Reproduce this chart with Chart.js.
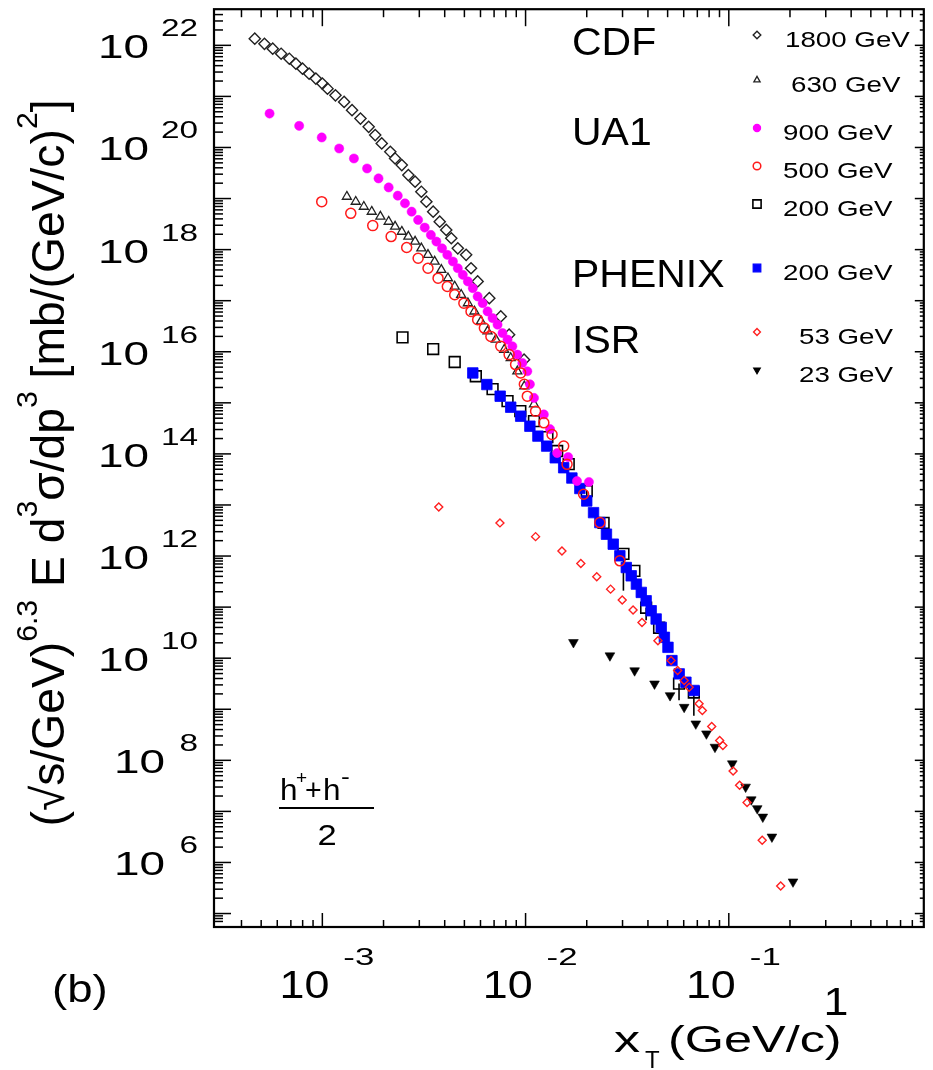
<!DOCTYPE html>
<html>
<head>
<meta charset="utf-8">
<script src="https://cdn.jsdelivr.net/npm/chart.js@4.4.0/dist/chart.umd.min.js"></script>
<style>
  html, body { margin: 0; padding: 0; background: #fff; }
  #wrap { width: 933px; height: 1070px; }
</style>
</head>
<body>
<div id="wrap"><canvas id="chart"></canvas></div>
<script>
// axis ranges (log scales)
const xMin = 2.93e-4, xMax = 0.911;
const yMin = 5.45e4, yMax = 5.1e22;
const xLabelExps = [-3, -2, -1];
const yLabelExps = [6, 8, 10, 12, 14, 16, 18, 20, 22];

// CDF 1800 GeV
const cdf1800X = [4.65e-4, 5.19e-4, 5.70e-4, 6.27e-4, 6.88e-4, 7.41e-4, 7.99e-4, 8.61e-4, 9.29e-4, 1.00e-3,
  1.06e-3, 1.16e-3, 1.28e-3, 1.40e-3, 1.54e-3, 1.69e-3, 1.82e-3, 1.96e-3, 2.16e-3, 2.28e-3, 2.46e-3, 2.65e-3,
  2.86e-3, 3.07e-3, 3.25e-3, 3.51e-3, 3.78e-3, 4.07e-3, 4.31e-3, 4.64e-3, 5.10e-3, 5.39e-3, 5.81e-3, 6.63e-3,
  7.55e-3, 8.30e-3, 9.83e-3];
const cdf1800Y = [1.35e22, 1.07e22, 8.6e21, 6.85e21, 5.47e21, 4.37e21, 3.49e21, 2.79e21, 2.23e21, 1.78e21,
  1.42e21, 1.05e21, 7.8e20, 5.37e20, 3.68e20, 2.54e20, 1.75e20, 1.20e20, 8.24e19, 6.09e19, 4.53e19, 2.88e19,
  2.14e19, 1.36e19, 8.69e18, 5.54e18, 3.53e18, 2.43e18, 1.67e18, 1.06e18, 7.9e17, 4.32e17, 2.38e17, 1.12e17,
  4.92e16, 2.16e16, 7.0e15];

// CDF 630 GeV
const cdf630X = [1.32e-3, 1.46e-3, 1.60e-3, 1.75e-3, 1.93e-3, 2.12e-3, 2.28e-3, 2.46e-3, 2.65e-3, 2.86e-3,
  3.07e-3, 3.31e-3, 3.57e-3, 3.85e-3, 4.15e-3, 4.48e-3, 4.82e-3, 5.20e-3, 5.60e-3, 6.03e-3, 6.50e-3, 7.14e-3,
  7.85e-3, 8.45e-3, 9.11e-3, 9.86e-3, 1.10e-2];
const cdf630Y = [1.09e19, 8.69e18, 6.94e18, 5.54e18, 4.43e18, 3.53e18, 2.82e18, 2.25e18, 1.80e18, 1.44e18,
  1.06e18, 7.9e17, 5.85e17, 4.03e17, 2.76e17, 1.90e17, 1.31e17, 8.95e16, 6.17e16, 3.94e16, 2.51e16, 1.73e16,
  1.10e16, 7.55e15, 4.15e15, 2.11e15, 9.4e14];

// UA1 900 GeV
const ua1900X = [5.50e-4, 7.69e-4, 9.93e-4, 1.21e-3, 1.43e-3, 1.66e-3, 1.89e-3, 2.12e-3, 2.35e-3, 2.55e-3,
  2.75e-3, 2.96e-3, 3.19e-3, 3.42e-3, 3.64e-3, 3.88e-3, 4.12e-3, 4.39e-3, 4.64e-3, 4.91e-3, 5.20e-3, 5.50e-3,
  5.81e-3, 6.15e-3, 6.50e-3, 6.88e-3, 7.28e-3, 7.70e-3, 8.15e-3, 8.61e-3, 9.11e-3, 9.64e-3, 1.02e-2, 1.05e-2,
  1.10e-2, 1.23e-2, 1.32e-2, 1.43e-2, 1.62e-2, 1.79e-2, 2.05e-2];
const ua1900Y = [4.61e20, 2.65e20, 1.57e20, 9.55e19, 6.09e19, 3.88e19, 2.48e19, 1.65e19, 1.14e19, 8.05e18,
  5.54e18, 3.81e18, 2.70e18, 1.94e18, 1.44e18, 1.06e18, 7.9e17, 5.85e17, 4.32e17, 3.21e17, 2.38e17, 1.76e17,
  1.21e17, 8.95e16, 6.17e16, 4.56e16, 3.39e16, 2.32e16, 1.73e16, 1.28e16, 8.79e15, 6.03e15, 4.15e15, 2.31e15,
  1.25e15, 5.92e14, 3.05e14, 1.04e14, 8.67e13, 2.94e13, 2.82e13];

// UA1 500 GeV
const ua1500X = [9.93e-4, 1.38e-3, 1.77e-3, 2.18e-3, 2.60e-3, 2.96e-3, 3.31e-3, 3.71e-3, 4.12e-3, 4.48e-3,
  4.97e-3, 5.39e-3, 5.81e-3, 6.27e-3, 6.75e-3, 7.55e-3, 8.30e-3, 8.93e-3, 9.46e-3, 9.86e-3, 1.02e-2, 1.12e-2,
  1.23e-2, 1.35e-2, 1.54e-2, 1.60e-2, 1.93e-2, 2.32e-2, 2.91e-2];
const ua1500Y = [8.69e18, 5.13e18, 2.95e18, 1.80e18, 1.10e18, 6.78e17, 4.32e17, 2.76e17, 1.90e17, 1.31e17,
  8.95e16, 6.17e16, 4.25e16, 2.91e16, 2.00e16, 1.28e16, 8.79e15, 5.61e15, 3.85e15, 2.31e15, 1.35e15, 6.87e14,
  4.06e14, 2.40e14, 1.42e14, 6.24e13, 1.62e13, 4.52e12, 8.05e11];

// UA1 200 GeV (lower error ends, null = no visible bar)
const ua1200X = [2.48e-3, 3.51e-3, 4.48e-3, 5.69e-3, 6.88e-3, 8.15e-3, 9.42e-3, 1.10e-2, 1.28e-2, 1.43e-2,
  1.63e-2, 2.00e-2, 2.42e-2, 3.03e-2, 3.43e-2, 3.92e-2, 4.54e-2, 5.69e-2, 6.73e-2];
const ua1200Y = [1.91e16, 1.13e16, 6.31e15, 3.31e15, 1.85e15, 1.08e15, 6.87e14, 4.38e14, 2.13e14, 1.14e14,
  6.32e13, 1.88e13, 4.46e12, 1.10e12, 5.14e11, 9.73e10, 3.95e10, 3.18e9, 2.13e9];
const ua1200Lo = [null, null, null, null, null, null, null, null, null, null,
  null, 1.2e13, null, 2.1e11, null, 5.5e10, null, 1.5e9, 7.5e8];

// PHENIX 200 GeV
const phenixX = [5.50e-3, 6.45e-3, 7.50e-3, 8.45e-3, 9.46e-3, 1.05e-2, 1.15e-2, 1.27e-2, 1.40e-2, 1.54e-2,
  1.69e-2, 1.85e-2, 2.00e-2, 2.16e-2, 2.32e-2, 2.50e-2, 2.70e-2, 2.91e-2, 3.13e-2, 3.31e-2, 3.51e-2, 3.71e-2,
  3.92e-2, 4.15e-2, 4.39e-2, 4.65e-2, 4.82e-2, 5.02e-2, 5.25e-2, 5.70e-2, 6.15e-2, 6.75e-2];
const phenixY = [3.85e15, 2.28e15, 1.35e15, 8.22e14, 5.48e14, 3.49e14, 2.23e14, 1.42e14, 8.40e13, 5.36e13,
  3.37e13, 2.10e13, 1.20e13, 7.08e12, 4.52e12, 2.68e12, 1.71e12, 1.01e12, 5.96e11, 4.10e11, 2.82e11, 1.94e11,
  1.33e11, 8.49e10, 5.85e10, 4.01e10, 2.56e10, 1.63e10, 8.97e9, 4.93e9, 3.38e9, 2.33e9];

// ISR 53 GeV
const isr53X = [3.74e-3, 7.48e-3, 1.12e-2, 1.51e-2, 1.87e-2, 2.24e-2, 2.62e-2, 2.99e-2, 3.38e-2, 3.74e-2,
  4.48e-2, 5.20e-2, 5.60e-2, 6.03e-2, 6.38e-2, 7.14e-2, 7.41e-2, 8.24e-2, 9.02e-2, 9.35e-2, 1.05e-1, 1.13e-1,
  1.23e-1, 1.46e-1, 1.80e-1];
const isr53Y = [9.14e12, 4.46e12, 2.40e12, 1.26e12, 7.13e11, 3.93e11, 2.25e11, 1.38e11, 8.77e10, 5.02e10,
  2.20e10, 8.97e9, 5.71e9, 3.65e9, 2.70e9, 1.28e9, 9.46e8, 4.60e8, 2.45e8, 1.96e8, 6.17e7, 3.24e7,
  1.49e7, 2.73e6, 3.45e5];

// ISR 23 GeV
const isr23X = [1.72e-2, 2.60e-2, 3.44e-2, 4.31e-2, 5.14e-2, 6.03e-2, 6.88e-2, 7.76e-2, 8.55e-2, 1.04e-1,
  1.21e-1, 1.29e-1, 1.38e-1, 1.47e-1, 1.63e-1, 2.07e-1];
const isr23Y = [2.04e10, 1.12e10, 5.71e9, 3.15e9, 1.86e9, 1.10e9, 5.20e8, 3.32e8, 1.82e8, 8.61e7,
  3.01e7, 1.70e7, 1.14e7, 7.80e6, 3.17e6, 4.19e5];

const FONT = '"Liberation Sans", Arial, Helvetica, sans-serif';

function pts(xs, ys) {
  return xs.map((x, i) => ({ x: x, y: ys[i] }));
}

const series = [
  { label: '1800 GeV', data: pts(cdf1800X, cdf1800Y), pointStyle: 'rectRot', radius: 5.6, fill: null, stroke: '#222', bw: 1.4, order: 8, lx: 785, ly: 35, lr: 3.8 },
  { label: '630 GeV', data: pts(cdf630X, cdf630Y), pointStyle: 'triangle', radius: 5.2, fill: null, stroke: '#222', bw: 1.3, order: 7, lx: 791, ly: 80, lr: 3.6 },
  { label: '900 GeV', data: pts(ua1900X, ua1900Y), pointStyle: 'circle', radius: 4.6, fill: '#ff00ff', stroke: '#ff00ff', bw: 0.5, order: 4, lx: 783, ly: 128, lr: 3.6 },
  { label: '500 GeV', data: pts(ua1500X, ua1500Y), pointStyle: 'circle', radius: 5, fill: null, stroke: '#ff1a1a', bw: 1.5, order: 3, lx: 783, ly: 166, lr: 3.8 },
  { label: '200 GeV', data: pts(ua1200X, ua1200Y), pointStyle: 'rect', radius: 7.6, fill: null, stroke: '#000', bw: 1.6, order: 6, lx: 783, ly: 204, lr: 5.8 },
  { label: '200 GeV', data: pts(phenixX, phenixY), pointStyle: 'rect', radius: 7.4, fill: '#0000ff', stroke: '#0000ff', bw: 0.8, order: 5, lx: 783, ly: 268, lr: 5.4 },
  { label: '53 GeV', data: pts(isr53X, isr53Y), pointStyle: 'rectRot', radius: 4, fill: null, stroke: '#ff2020', bw: 1.4, order: 1, lx: 799, ly: 332, lr: 3.4 },
  { label: '23 GeV', data: pts(isr23X, isr23Y), pointStyle: 'triangle', rotation: 180, radius: 5.6, fill: '#000', stroke: '#000', bw: 0.6, order: 2, lx: 799, ly: 370, lr: 3.8 }
];

function txt(ctx, s, x, y, size, sx, align) {
  ctx.save();
  ctx.font = size + 'px ' + FONT;
  ctx.textBaseline = 'alphabetic';
  ctx.textAlign = 'left';
  const w = ctx.measureText(s).width * sx;
  const x0 = align === 'right' ? x - w : align === 'center' ? x - w / 2 : x;
  ctx.translate(x0, y);
  ctx.scale(sx, 1);
  ctx.fillStyle = '#000';
  ctx.fillText(s, 0, 0);
  ctx.restore();
  return w;
}

function seg(ctx, x1, y1, x2, y2) {
  ctx.beginPath();
  ctx.moveTo(x1, y1);
  ctx.lineTo(x2, y2);
  ctx.stroke();
}

// lower error bars for UA1 200 GeV, drawn under the markers
const errorBarPlugin = {
  id: 'errorBars',
  beforeDatasetsDraw(chart) {
    const ctx = chart.ctx;
    const xs = chart.scales.x, ys = chart.scales.y;
    ctx.save();
    ctx.strokeStyle = '#000';
    ctx.lineWidth = 1.6;
    ua1200X.forEach((v, i) => {
      if (ua1200Lo[i] == null) return;
      const px = xs.getPixelForValue(v);
      seg(ctx, px, ys.getPixelForValue(ua1200Y[i]), px, ys.getPixelForValue(ua1200Lo[i]));
    });
    ctx.restore();
  }
};

const framePlugin = {
  id: 'frame',
  afterDatasetsDraw(chart) {
    const ctx = chart.ctx;
    const a = chart.chartArea;
    const xs = chart.scales.x, ys = chart.scales.y;
    ctx.save();
    ctx.strokeStyle = '#000';

    // ticks on x (bottom and top)
    ctx.lineWidth = 1.5;
    for (let e = -4; e <= 0; e++) {
      for (let m = 1; m <= 9; m++) {
        const px = xs.getPixelForValue(m * Math.pow(10, e));
        if (px < a.left + 3 || px > a.right - 3) continue;
        const major = m === 1;
        seg(ctx, px, a.bottom, px, a.bottom - (major ? 14 : 7));
        seg(ctx, px, a.top, px, a.top + (major ? 17 : 8));
      }
    }
    // ticks on y (left and right)
    for (let e = 4; e <= 23; e++) {
      for (let m = 1; m <= 9; m++) {
        const py = ys.getPixelForValue(m * Math.pow(10, e));
        if (py < a.top + 3 || py > a.bottom - 3) continue;
        const major = m === 1;
        seg(ctx, a.left, py, a.left + (major ? 17 : 9), py);
        seg(ctx, a.right, py, a.right - (major ? 9 : 4), py);
      }
    }
    ctx.lineWidth = 2.2;
    ctx.strokeRect(a.left, a.top, a.right - a.left, a.bottom - a.top);

    // y tick labels
    yLabelExps.forEach(e => {
      const py = ys.getPixelForValue(Math.pow(10, e));
      const exp = String(e);
      const right = exp.length > 1 ? 149 : 165;
      txt(ctx, '10', right, py + 13, 34, 1.35, 'right');
      txt(ctx, exp, 198, py - 9, 23, 1.45, 'right');
    });
    // x tick labels
    xLabelExps.forEach(e => {
      const px = xs.getPixelForValue(Math.pow(10, e));
      txt(ctx, '10', px + 7, 998, 38, 1.18, 'right');
      txt(ctx, String(e), px + 21, 965, 24, 1.45, 'left');
    });
    txt(ctx, '1', xs.getPixelForValue(1) - 96, 1015, 38, 1.18, 'center');

    // x axis title
    txt(ctx, 'x', 614, 1052, 36, 1.45, 'left');
    txt(ctx, 'T', 645, 1068, 24, 1.0, 'left');
    txt(ctx, '(GeV/c)', 668, 1052, 36, 1.4, 'left');

    // y axis title, rotated
    const pieces = [
      ['(\u221As/GeV)', 0], ['6.3', 1], [' E d', 0], ['3', 1], ['\u03C3/dp', 0], ['3', 1],
      [' [mb/(GeV/c)', 0], ['2', 1], [']', 0]
    ];
    const mainSize = 46, supSize = 30;
    let total = 0;
    pieces.forEach(p => {
      ctx.font = (p[1] ? supSize : mainSize) + 'px ' + FONT;
      total += ctx.measureText(p[0]).width;
    });
    const span = 727;
    const k = span / total;
    ctx.save();
    ctx.translate(64, 463);
    ctx.rotate(-Math.PI / 2);
    ctx.scale(k, 1);
    ctx.fillStyle = '#000';
    ctx.textBaseline = 'alphabetic';
    let cx = -total / 2;
    pieces.forEach(p => {
      ctx.font = (p[1] ? supSize : mainSize) + 'px ' + FONT;
      ctx.fillText(p[0], cx, p[1] ? -27 : 0);
      cx += ctx.measureText(p[0]).width;
    });
    ctx.restore();

    // (b)
    txt(ctx, '(b)', 52, 1002, 38, 1.2, 'left');

    // (h+ + h-)/2
    txt(ctx, 'h', 280, 800, 30, 1.05, 'left');
    txt(ctx, '+', 296, 784, 19, 1.0, 'left');
    txt(ctx, '+', 305, 800, 30, 0.95, 'left');
    txt(ctx, 'h', 323, 800, 30, 1.05, 'left');
    txt(ctx, '-', 341, 784, 22, 1.2, 'left');
    ctx.lineWidth = 2;
    seg(ctx, 279, 808, 374, 808);
    txt(ctx, '2', 327, 845, 30, 1.15, 'center');

    // experiment names
    txt(ctx, 'CDF', 572, 55, 39, 1.05, 'left');
    txt(ctx, 'UA1', 572, 145, 39, 1.05, 'left');
    txt(ctx, 'PHENIX', 572, 287, 39, 1.05, 'left');
    txt(ctx, 'ISR', 572, 353, 39, 1.05, 'left');

    // legend entries
    const drawPoint = Chart.helpers.drawPoint;
    series.forEach(s => {
      txt(ctx, s.label, s.lx, s.ly + 12, 22, 1.26, 'left');
      ctx.save();
      ctx.fillStyle = s.fill || 'rgba(0,0,0,0)';
      ctx.strokeStyle = s.stroke;
      ctx.lineWidth = Math.max(s.bw, 1.2);
      drawPoint(ctx, { pointStyle: s.pointStyle, rotation: s.rotation || 0, radius: s.lr, borderWidth: Math.max(s.bw, 1.2) }, 757, s.ly);
      ctx.restore();
    });
    ctx.restore();
  }
};

new Chart(document.getElementById('chart'), {
  type: 'scatter',
  data: {
    datasets: series.map(s => ({
      label: s.label,
      data: s.data,
      order: s.order,
      showLine: false,
      pointStyle: s.pointStyle,
      rotation: s.rotation || 0,
      pointRadius: s.radius,
      pointHoverRadius: s.radius,
      pointBackgroundColor: s.fill || 'rgba(0,0,0,0)',
      pointBorderColor: s.stroke,
      pointBorderWidth: s.bw
    }))
  },
  options: {
    responsive: true,
    maintainAspectRatio: false,
    animation: false,
    events: [],
    layout: { padding: { left: 214, top: 7, right: 3, bottom: 143 } },
    plugins: { legend: { display: false }, tooltip: { enabled: false } },
    scales: {
      x: { type: 'logarithmic', min: xMin, max: xMax, display: false },
      y: { type: 'logarithmic', min: yMin, max: yMax, display: false }
    }
  },
  plugins: [errorBarPlugin, framePlugin]
});
</script>
</body>
</html>
